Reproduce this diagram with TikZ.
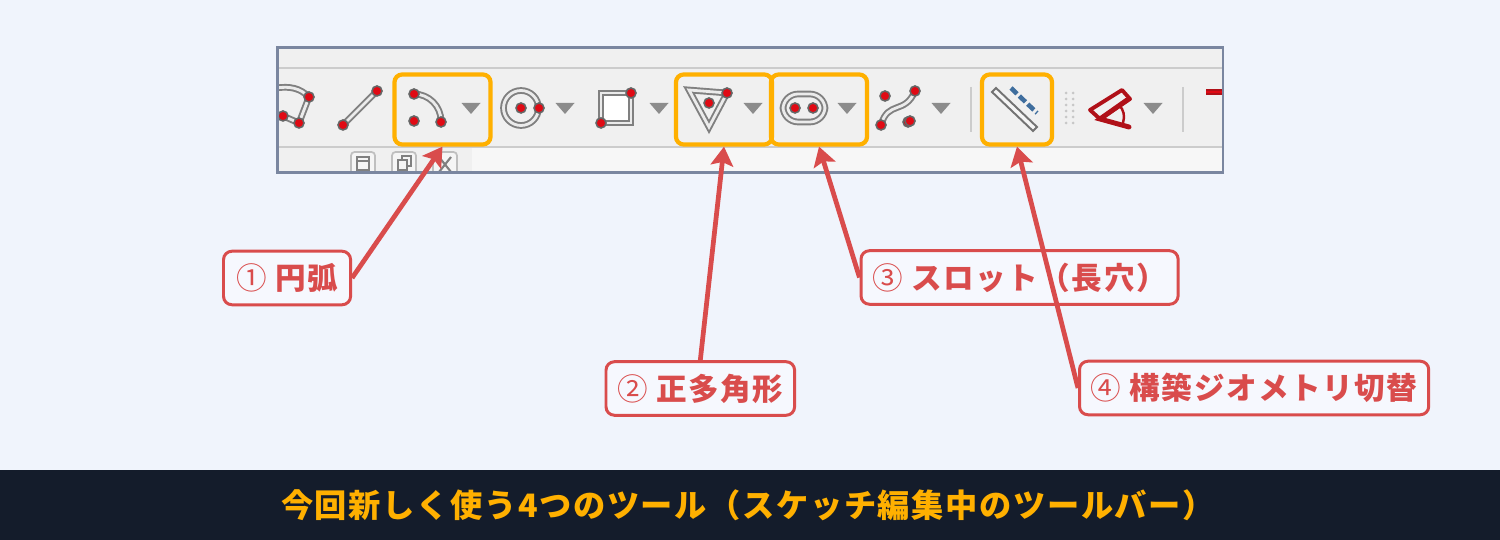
\documentclass[tikz,border=0pt]{standalone}
\usepackage{fontspec}
\usetikzlibrary{arrows.meta}
\newfontfamily\jpfont[LetterSpace=5]{Noto Sans CJK JP}
\definecolor{pagebg}{HTML}{F0F4FC}
\definecolor{bandbg}{HTML}{141C2B}
\definecolor{accent}{HTML}{FFB000}
\definecolor{callred}{HTML}{D94C4C}
\definecolor{labelbg}{HTML}{F6F8FE}
\definecolor{framecol}{HTML}{7A86A0}
\definecolor{handlecol}{HTML}{E00A14}
\definecolor{darkred}{HTML}{B01018}
\definecolor{dashblue}{HTML}{3F6E9E}
\tikzset{
    band/.style = {
        fill = bandbg,
        minimum width=15cm,
        minimum height=0.7cm,
        inner sep=0pt,
        },
    title/.style = {
        text = accent,
        font = \jpfont\bfseries\fontsize{9.17}{11}\selectfont,
        inner sep=0pt,
        },
    toolbar/.style = {
        fill = black!6,
        minimum width=9.434cm,
        minimum height=1.234cm,
        inner sep=0pt,
        },
    frame/.style = {
        draw = framecol,
        line width=0.8pt,
        },
    highlight/.style = {
        draw = accent,
        line width=1.2pt,
        rounded corners=2.2pt,
        minimum height=0.7cm,
        inner sep=0pt,
        },
    callout/.style = {
        draw = callred,
        fill = labelbg,
        text = callred,
        line width=0.85pt,
        rounded corners=2.4pt,
        anchor = west,
        inner xsep=3.2pt,
        inner ysep=0pt,
        minimum height=0.535cm,
        font = \jpfont\bfseries\fontsize{8.7}{10}\selectfont,
        },
    pointer/.style = {
        draw = callred,
        line width=1.35pt,
        -{Stealth[width=6.4pt,length=5.4pt,inset=1pt]},
        },
    handle/.style = {
        draw = black!60,
        fill = handlecol,
        line width=0.45pt,
        },
    wire/.style = {
        draw = black!50,
        line width=0.55pt,
        double = white!92!black,
        double distance=0.8pt,
        },
    dropmark/.style = {
        fill = black!45,
        },
    divider/.style = {
        draw = black!20,
        line width=0.6pt,
        },
}
\newcommand{\circno}[1]{{\mdseries #1}}
\begin{document}
\begin{tikzpicture}[x=0.01cm,y=-0.01cm]
    \useasboundingbox (0,0) rectangle (1500,540);
    \fill[pagebg] (0,0) rectangle (1500,540);
    \node[band] (band) at (750,505) {};
    \node[title] (headline) at (748,505) {今回新しく使う4つのツール（スケッチ編集中のツールバー）};

    % toolbar
    \node[toolbar] (bar) at (750.3,110.3) {};
    \begin{scope}
        \clip (bar.north west) rectangle (bar.south east);
        \fill[black!3] (472,148) rectangle (1222,172);
        \draw[divider] (278,68) -- (1222,68);
        \draw[divider] (278,147) -- (1222,147);
        % window buttons
        \foreach \x in {363,404,445}
            \draw[black!25, fill=black!4, line width=0.5pt, rounded corners=1pt] (\x-12,152) rectangle (\x+12,180);
        \draw[black!50, line width=0.5pt] (357,157) rectangle (369,170) (357,161) -- (369,161);
        \draw[black!50, line width=0.5pt] (398,160) rectangle (407,170) (402,160) -- (402,156) -- (411,156) -- (411,166) -- (407,166);
        \draw[black!50, line width=0.6pt] (439,157) -- (451,172) (451,157) -- (439,172);

        % polygon, line, arc, circle, square
        \draw[wire] (283,116) -- (299,123) -- (309,97) .. controls (300,88) and (290,86) .. (276,88);
        \draw[wire] (343,125) -- (377,91);
        \draw[wire] (414,94) arc (-90:0:27);
        \draw[wire] (521,108) circle (17.5);
        \draw[wire, fill=white] (601,123) rectangle (631,93);
        % triangle, slot, curve
        \draw[wire] (689,90) -- (727,93) -- (709,127) -- cycle;
        \draw[wire, rounded corners=4.3pt] (783,94) rectangle (825,122);
        \draw[wire] (881,125) .. controls (888,100) and (905,115) .. (915,91);
        % construction toggle
        \draw[black!55, fill=black!4, line width=0.55pt] (992,92) -- (996,88) -- (1037,127) -- (1033,131) -- cycle;
        \draw[dashblue, line width=1.3pt, dash pattern=on 2.4pt off 0.9pt] (1011,88) -- (1037,113);
        % constraint icon
        \draw[darkred, line width=1.1pt, line join=round] (1090,110) -- (1122,90) -- (1130,99) -- (1100,119) -- cycle;
        \draw[darkred, line width=1.4pt, line cap=round] (1129,127) -- (1100,119) -- (1127,100);
        \draw[darkred, line width=0.7pt] (1119,105) .. controls (1124,110) and (1125,116) .. (1123,123);
        \draw[darkred, line width=1.5pt] (1206,92) -- (1226,92);
        \draw[handlecol, line width=0.7pt] (1206,92) -- (1226,92);

        \foreach \p in {(309,97),(299,123),(283,116),(343,125),(377,91),(414,94),(441,122),(414,121),(521,108),(539,108),(631,93),(601,123),(727,93),(709,103),(795,108),(813,108),(885,96),(881,125),(908,122),(915,91),(910,121)}
            \draw[handle] \p circle (5);
        \foreach \x in {471,565,659,753,847,941,1153}
            \fill[dropmark] (\x-9.5,103) -- (\x+9.5,103) -- (\x,114) -- cycle;
        \foreach \x in {971,1183}
            \draw[divider] (\x,87) -- (\x,132);
        \foreach \y in {93,99,105,111,117,123}
            \foreach \x in {1066,1073}
                \fill[black!22] (\x,\y) circle (1.5);
    \end{scope}
    \draw[frame] (bar.north west) rectangle (bar.south east);

    \node[highlight, minimum width=0.96cm] (arcbox) at (442.5,109.5) {};
    \node[highlight, minimum width=0.96cm] (polybox) at (724,109.5) {};
    \node[highlight, minimum width=0.96cm] (slotbox) at (819,109.5) {};
    \node[highlight, minimum width=0.70cm] (constbox) at (1017,109.5) {};

    \node[callout, minimum width=1.27cm] (arclabel) at (222,278) {\circno{①} 円弧};
    \node[callout] (polylabel) at (604.5,388.5) {\circno{②} 正多角形};
    \node[callout] (slotlabel) at (859.5,277.5) {\circno{③} スロット（長穴）};
    \node[callout] (constlabel) at (1078,388) {\circno{④} 構築ジオメトリ切替};

    \draw[pointer] (arclabel.east) -- (arcbox.south);
    \draw[pointer] (polylabel.north) -- (polybox.south);
    \draw[pointer] (slotlabel.west) -- (slotbox.south);
    \draw[pointer] (constlabel.west) -- (constbox.south);
\end{tikzpicture}
\end{document}
